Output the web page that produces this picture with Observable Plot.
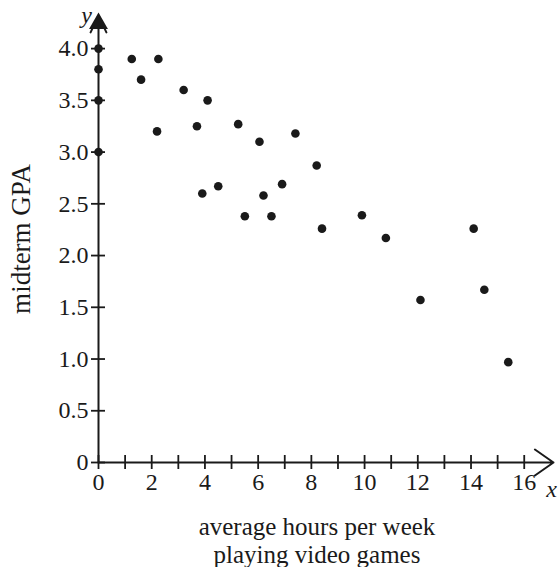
<!DOCTYPE html>
<html>
<head>
<meta charset="utf-8">
<script src="https://cdn.jsdelivr.net/npm/d3@7"></script>
<script src="https://cdn.jsdelivr.net/npm/@observablehq/plot@0.6"></script>
<style>
  html, body { margin: 0; padding: 0; background: #fff; }
</style>
</head>
<body>
<div id="chart"></div>
<script>
// Data
const hours = [0, 0, 0, 0, 1.25, 1.6, 2.25, 2.2, 3.2, 3.7, 4.1, 3.9, 4.5, 5.25, 5.5, 6.05, 6.2, 6.5, 6.9, 7.4, 8.2, 8.4, 9.9, 10.8, 12.1, 14.1, 14.5, 15.4];
const gpa   = [4.0, 3.8, 3.5, 3.0, 3.9, 3.7, 3.9, 3.2, 3.6, 3.25, 3.5, 2.6, 2.67, 3.27, 2.38, 3.1, 2.58, 2.38, 2.69, 3.18, 2.87, 2.26, 2.39, 2.17, 1.57, 2.26, 1.67, 0.97];

const xTicks = d3.range(0, 17, 1);          // ticks 0..16
const xTickLabels = [0, 2, 4, 6, 8, 10, 12, 14, 16];
const yTicks = [0, 0.5, 1.0, 1.5, 2.0, 2.5, 3.0, 3.5, 4.0];
const yTickLabels = ["0", "0.5", "1.0", "1.5", "2.0", "2.5", "3.0", "3.5", "4.0"];

const xAxisEnd = 17.1;   // arrow tip of x axis (data units)
const yAxisEnd = 4.32;   // arrow tip of y axis (data units)

const xTitleLines = ["average hours per week", "playing video games"];
const yTitle = "midterm GPA";

const points = hours.map((h, i) => ({hours: h, gpa: gpa[i]}));

const W = 560, H = 567;
const mL = 98, mR = 7, mT = 15, mB = 105;
const frameW = W - mL - mR, frameH = H - mT - mB;
const tk = 7;
const ink = "#1a1a1a";

const chart = Plot.plot({
  width: W,
  height: H,
  marginLeft: mL,
  marginRight: mR,
  marginTop: mT,
  marginBottom: mB,
  style: {fontFamily: "'Liberation Serif', 'DejaVu Serif', serif", background: "#fff", color: ink},
  x: {domain: [0, xAxisEnd], axis: null},
  y: {domain: [0, yAxisEnd], axis: null},
  marks: [
    // axes with arrows
    Plot.arrow([{x1: 0, y1: 0, x2: xAxisEnd, y2: 0}], {x1: "x1", y1: "y1", x2: "x2", y2: "y2", stroke: ink, strokeWidth: 2, headLength: 17, headAngle: 70}),
    Plot.arrow([{x1: 0, y1: 0, x2: 0, y2: yAxisEnd}], {x1: "x1", y1: "y1", x2: "x2", y2: "y2", stroke: ink, strokeWidth: 2, headLength: 14, headAngle: 50}),
    Plot.dot([yAxisEnd], {x: () => 0, y: d => d, symbol: "triangle", r: 7, fill: ink, dy: 8}),
    // ticks crossing the axes
    Plot.ruleX(xTicks, {x: d => d, stroke: ink, strokeWidth: 1.8, insetTop: frameH - tk, insetBottom: -tk}),
    Plot.ruleY(yTicks, {y: d => d, stroke: ink, strokeWidth: 1.8, insetLeft: -tk, insetRight: frameW - tk}),
    // tick labels
    Plot.text(xTickLabels, {x: d => d, text: d => String(d), frameAnchor: "bottom", lineAnchor: "middle", dy: 20, fontSize: 24, fill: ink}),
    Plot.text(yTicks, {y: d => d, text: (d, i) => yTickLabels[i], frameAnchor: "left", dx: -10, textAnchor: "end", fontSize: 24, fill: ink}),
    // axis letters
    Plot.text(["x"], {frameAnchor: "bottom-right", textAnchor: "middle", lineAnchor: "middle", dx: -2, dy: 27, fontSize: 24, fontStyle: "italic", fill: ink}),
    Plot.text(["y"], {frameAnchor: "top-left", textAnchor: "middle", lineAnchor: "middle", dx: -12, dy: 0, fontSize: 24, fontStyle: "italic", fill: ink}),
    // axis titles (two lines)
    Plot.text([xTitleLines[0]], {frameAnchor: "bottom", textAnchor: "middle", lineAnchor: "middle", dx: -9, dy: 64, fontSize: 25, fill: ink}),
    Plot.text([xTitleLines[1]], {frameAnchor: "bottom", textAnchor: "middle", lineAnchor: "middle", dx: -9, dy: 92, fontSize: 25, fill: ink}),
    Plot.text([yTitle], {frameAnchor: "left", textAnchor: "middle", lineAnchor: "middle", dx: -77, rotate: -90, fontSize: 27, fill: ink}),
    // data points
    Plot.dot(points, {x: "hours", y: "gpa", r: 4.3, fill: ink, stroke: "none"})
  ]
});

document.getElementById("chart").appendChild(chart);
</script>
</body>
</html>
